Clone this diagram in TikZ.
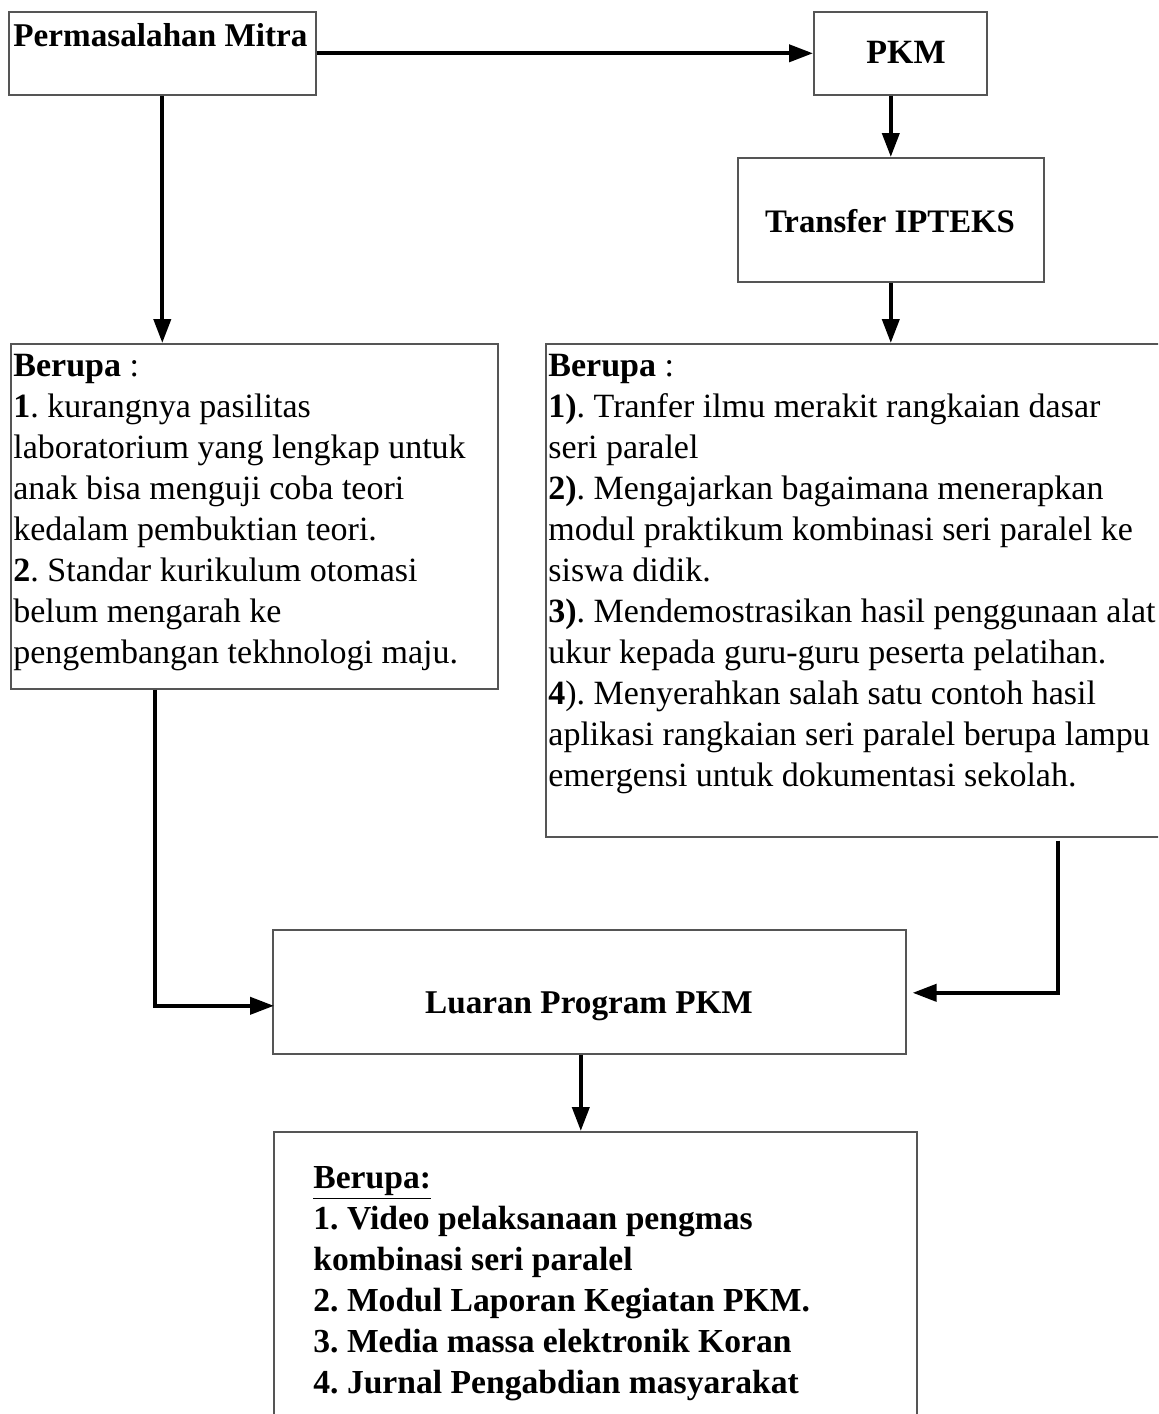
\documentclass[tikz,border=0pt]{standalone}
\usepackage{fontspec}
\setmainfont{Liberation Serif}
\usetikzlibrary{arrows.meta,calc}
\definecolor{boxgray}{RGB}{85,85,85}
\frenchspacing
\begin{document}
\begin{tikzpicture}[x=0.5pt,y=-0.5pt,
  box/.style={draw=boxgray,line width=0.8pt,inner sep=0pt,anchor=north west},
  conn/.style={line width=2pt,-{Triangle[length=12pt,width=8.5pt]}},
  body/.style={inner sep=0pt,anchor=north west,align=left,font=\fontsize{17}{20.5}\selectfont},
  title/.style={inner sep=0pt,font=\fontsize{17}{20.5}\selectfont\bfseries}]
\clip (0,0) rectangle (1158,1414);
\useasboundingbox (0,0) rectangle (1158,1414);
% boxes
\node[box,minimum width=153.5pt,minimum height=41.5pt] (pm) at (8,11) {};
\node[box,minimum width=86.5pt,minimum height=41.5pt] (pkm) at (813,11) {};
\node[box,minimum width=153pt,minimum height=62pt] (tr) at (737,157) {};
\node[box,minimum width=243.5pt,minimum height=172.5pt] (lb) at (10,343) {};
\node[box,minimum width=320pt,minimum height=246.5pt] (rb) at (545,343) {};
\node[box,minimum width=316.5pt,minimum height=62pt] (lu) at (272,929) {};
\node[box,minimum width=321.5pt,minimum height=160pt] (bb) at (273,1131) {};
% titles
\node[title,anchor=base west,font=\fontsize{16.6}{20.5}\selectfont\bfseries] (tpm) at (13,46) {Permasalahan Mitra};
\node[title,anchor=base] (tpkm) at (906,63) {PKM};
\node[title,anchor=base,font=\fontsize{16.4}{20.5}\selectfont\bfseries] (ttr) at (890,232) {Transfer IPTEKS};
\node[title,anchor=base,font=\fontsize{16.6}{20.5}\selectfont\bfseries] (tlu) at (589,1013) {Luaran Program PKM};
% body texts
\node[body] (tlb) at (13,354) {\textbf{Berupa} :\\
\textbf{1}. kurangnya pasilitas\\
laboratorium yang lengkap untuk\\
anak bisa menguji coba teori\\
kedalam pembuktian teori.\\
\textbf{2}. Standar kurikulum otomasi\\
belum mengarah ke\\
pengembangan tekhnologi maju.};
\node[body] (trb) at (548,354) {\textbf{Berupa} :\\
\textbf{1)}. Tranfer ilmu merakit rangkaian dasar\\
seri paralel\\
\textbf{2)}. Mengajarkan bagaimana menerapkan\\
modul praktikum kombinasi seri paralel ke\\
siswa didik.\\
\textbf{3)}. Mendemostrasikan hasil penggunaan alat\\
ukur kepada guru-guru peserta pelatihan.\\
\textbf{4}). Menyerahkan salah satu contoh hasil\\
aplikasi rangkaian seri paralel berupa lampu\\
emergensi untuk dokumentasi sekolah.};
\node[body,font=\fontsize{16.8}{20.5}\selectfont\bfseries] (tbb) at (313,1166) {\underline{Berupa:}\\
1. Video pelaksanaan pengmas\\
kombinasi seri paralel\\
2. Modul Laporan Kegiatan PKM.\\
3. Media massa elektronik Koran\\
4. Jurnal Pengabdian masyarakat};
% connectors
\draw[conn] (pm) -- (pkm);
\draw[conn] (tr.north |- pkm.south) -- (tr.north);
\draw[conn] (pm.south) -- (pm.south |- lb.north);
\draw[conn] (tr.south) -- (tr.south |- rb.north);
\coordinate (lbout) at ($(lb.south west)+(145,0)$);
\coordinate (luin) at ($(lu.west)+(2,14)$);
\draw[conn] (lbout) -- (lbout |- luin) -- (luin);
\coordinate (rbout) at ($(rb.south west)+(513,3)$);
\coordinate (luin2) at ($(lu.east)+(6,1)$);
\draw[conn] (rbout) -- (rbout |- luin2) -- (luin2);
\coordinate (luout) at ($(lu.south)+(-8.5,0)$);
\draw[conn] (luout) -- (luout |- bb.north);
\end{tikzpicture}
\end{document}
